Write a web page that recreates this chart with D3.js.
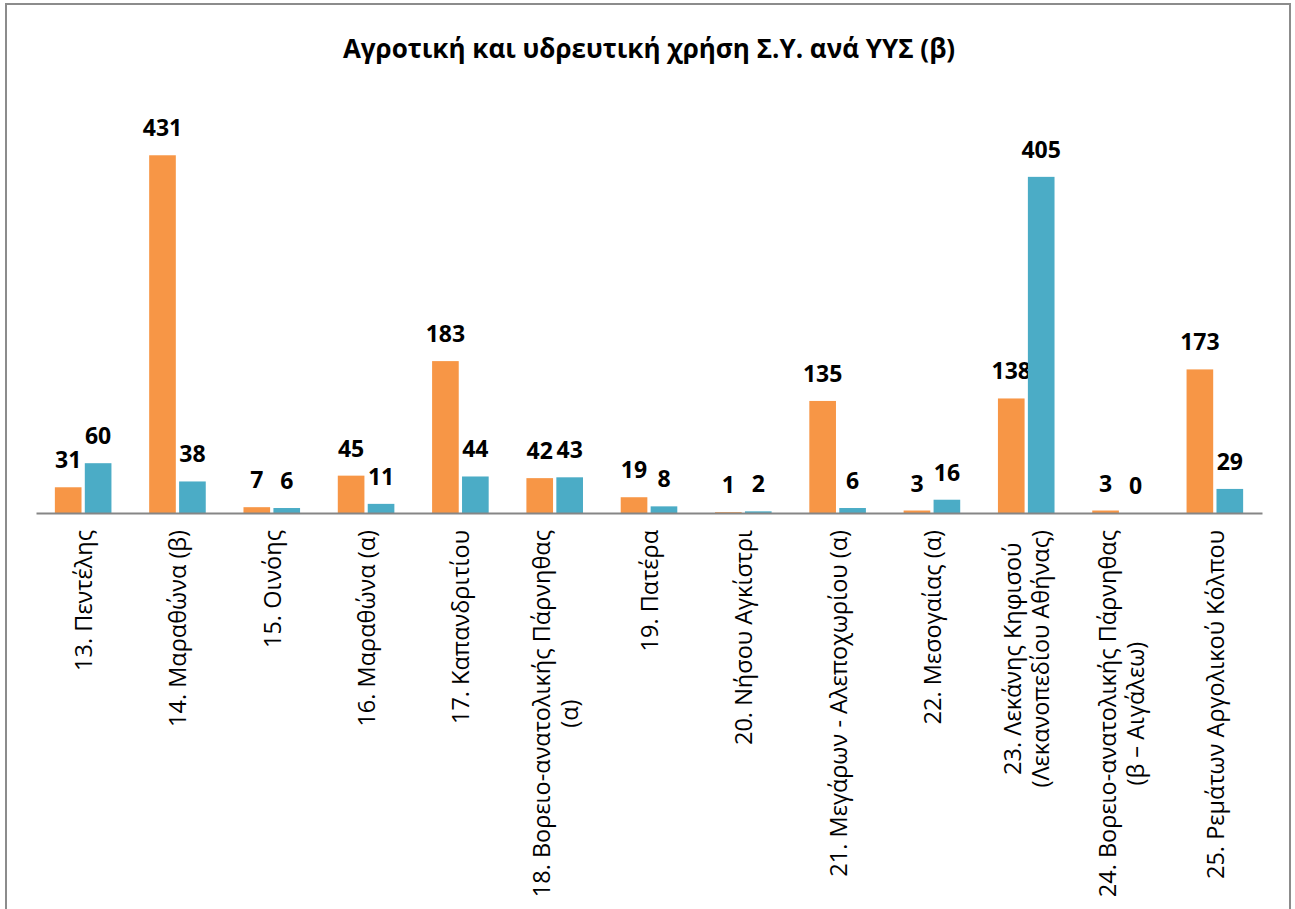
<!DOCTYPE html>
<html>
<head>
<meta charset="utf-8">
<script src="https://cdn.jsdelivr.net/npm/d3@7"></script>
<style>
  html, body { margin: 0; padding: 0; background: #ffffff; }
  svg { display: block; }
</style>
</head>
<body>
<svg id="chart" width="1295" height="909"></svg>
<script>
// Water-body categories (each label split into its display lines)
const categories = [
  ["13. Πεντέλης"],
  ["14. Μαραθώνα (β)"],
  ["15. Οινόης"],
  ["16. Μαραθώνα (α)"],
  ["17. Καπανδριτίου"],
  ["18. Βορειο-ανατολικής Πάρνηθας", "(α)"],
  ["19. Πατέρα"],
  ["20. Νήσου Αγκίστρι"],
  ["21. Μεγάρων - Αλεποχωρίου (α)"],
  ["22. Μεσογαίας (α)"],
  ["23. Λεκάνης Κηφισού", "(Λεκανοπεδίου Αθήνας)"],
  ["24. Βορειο-ανατολικής Πάρνηθας", "(β – Αιγάλεω)"],
  ["25. Ρεμάτων Αργολικού Κόλπου"]
];

// Agricultural use (orange) and water-supply use (blue)
const agriculture = [31, 431, 7, 45, 183, 42, 19, 1, 135, 3, 138, 3, 173];
const waterSupply = [60, 38, 6, 11, 44, 43, 8, 2, 6, 16, 405, 0, 29];

const titleText = "Αγροτική και υδρευτική χρήση Σ.Υ. ανά ΥΥΣ (β)";
const seriesColors = ["#F79646", "#4BACC6"];

const svg = d3.select("#chart");
const W = 1295, H = 909;

// outer frame
svg.append("rect")
  .attr("x", 6).attr("y", 4)
  .attr("width", 1284).attr("height", H + 10)
  .attr("fill", "#ffffff")
  .attr("stroke", "#8c8c8c")
  .attr("stroke-width", 2);

// title
svg.append("text")
  .attr("x", 649).attr("y", 58)
  .attr("text-anchor", "middle")
  .attr("font-family", "'Open Sans', sans-serif")
  .attr("font-weight", "bold")
  .attr("font-size", 26)
  .attr("fill", "#000")
  .text(titleText);

const plotLeft = 36, plotRight = 1262, baseY = 513, topY = 98;

const x = d3.scaleBand()
  .domain(d3.range(categories.length))
  .range([plotLeft, plotRight])
  .paddingInner(0.4)
  .paddingOuter(0.2);

const xs = d3.scaleBand()
  .domain([0, 1])
  .range([0, x.bandwidth()])
  .paddingInner(0.11);

const y = d3.scaleLinear().domain([0, 500]).range([baseY, topY]);

const series = [agriculture, waterSupply];

series.forEach((vals, si) => {
  const g = svg.append("g");
  g.selectAll("rect")
    .data(vals)
    .join("rect")
    .attr("x", (d, i) => x(i) + xs(si))
    .attr("y", d => y(d))
    .attr("width", xs.bandwidth())
    .attr("height", d => baseY - y(d))
    .attr("fill", seriesColors[si]);

  g.selectAll("text")
    .data(vals)
    .join("text")
    .attr("x", (d, i) => x(i) + xs(si) + xs.bandwidth() / 2)
    .attr("y", d => y(d) - 19)
    .attr("text-anchor", "middle")
    .attr("font-family", "'Open Sans', sans-serif")
    .attr("font-weight", "bold")
    .attr("font-size", 23)
    .attr("fill", "#000")
    .text(d => d);
});

// category axis line
const axis = d3.axisBottom(d3.scaleLinear().domain([0, 1]).range([plotLeft, plotRight]))
  .ticks(0).tickSize(0).tickFormat("");
svg.append("g")
  .attr("transform", `translate(0,${baseY})`)
  .call(axis)
  .call(g => g.select(".domain").attr("stroke", "#868686").attr("stroke-width", 2));

// rotated category labels, block anchored just under the axis
const labelTop = 530, lineGap = 28, labelSize = 23.5;
categories.forEach((lines, i) => {
  const cx = x(i) + x.bandwidth() / 2;
  const g = svg.append("g");
  const texts = lines.map((ln, li) => g.append("text")
    .attr("font-family", "'Open Sans', sans-serif")
    .attr("font-size", labelSize)
    .attr("fill", "#000")
    .attr("text-anchor", "middle")
    .attr("dominant-baseline", "central")
    .text(ln));
  const lens = texts.map(t => t.node().getComputedTextLength());
  const L = d3.max(lens);
  const n = lines.length;
  texts.forEach((t, li) => {
    const lx = cx + (li - (n - 1) / 2) * lineGap;
    const ly = labelTop + L / 2;
    t.attr("transform", `translate(${lx},${ly}) rotate(-90)`);
  });
});
</script>
</body>
</html>
